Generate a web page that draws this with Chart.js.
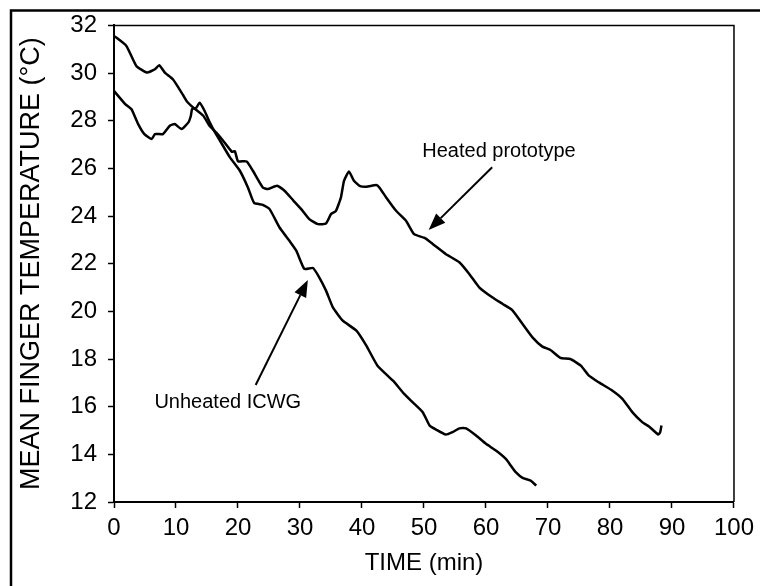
<!DOCTYPE html>
<html lang="en">
<head>
<meta charset="UTF-8">
<title>Mean finger temperature</title>
<script src="https://cdn.jsdelivr.net/npm/chart.js@4"></script>
<style>
  html, body { margin: 0; padding: 0; background: #fff; }
  #wrap { width: 760px; height: 586px; position: relative; }
</style>
</head>
<body>
<div id="wrap"><canvas id="tempChart" width="760" height="586"></canvas></div>
<script>
// values (time in min, temperature in °C)
const heatedTime = [0, 2.0, 3.6, 5.3, 6.6, 7.3, 8.2, 9.5, 10.9, 11.7, 12.8, 14.4, 15.4, 16.5, 17.6, 19.0, 19.5, 20.0, 21.4, 22.4, 24.0, 24.8, 26.3, 27.5, 28.9, 30.2, 31.5, 32.9, 34.2, 35.0, 35.8, 36.6, 37.1, 37.9, 38.7, 39.6, 40.7, 42.3, 42.8, 43.9, 45.5, 47.1, 48.4, 50.1, 51.4, 53.5, 55.7, 57.3, 58.9, 61.0, 62.7, 64.2, 65.9, 67.5, 69.1, 70.4, 72.0, 73.6, 75.3, 76.6, 78.2, 80.4, 82.0, 83.6, 85.2, 86.3, 87.8, 88.1, 88.3];
const heatedTemp = [31.56, 31.14, 30.30, 30.02, 30.16, 30.33, 30.02, 29.74, 29.18, 28.83, 28.55, 28.21, 27.79, 27.50, 27.16, 26.70, 26.72, 26.30, 26.29, 25.90, 25.20, 25.13, 25.27, 25.06, 24.66, 24.29, 23.87, 23.66, 23.69, 24.08, 24.22, 24.78, 25.48, 25.87, 25.48, 25.27, 25.23, 25.30, 25.20, 24.78, 24.22, 23.80, 23.24, 23.08, 22.83, 22.41, 22.06, 21.57, 21.01, 20.59, 20.31, 20.06, 19.47, 18.91, 18.52, 18.38, 18.05, 18.00, 17.72, 17.30, 17.02, 16.67, 16.33, 15.77, 15.35, 15.17, 14.83, 14.93, 15.21];

const unheatedTime = [0, 1.8, 2.8, 3.9, 4.9, 6.1, 6.6, 7.9, 9.0, 9.8, 10.9, 12.0, 12.4, 12.6, 13.3, 13.8, 14.6, 15.4, 16.2, 17.1, 18.7, 20.3, 21.6, 22.6, 24.0, 25.1, 26.7, 28.3, 29.4, 30.7, 32.1, 33.1, 34.2, 35.3, 36.9, 39.1, 40.7, 42.5, 45.0, 46.8, 48.2, 49.8, 50.9, 52.0, 53.5, 54.6, 55.7, 56.8, 58.4, 60.0, 61.6, 63.2, 64.0, 64.8, 65.9, 67.2, 68.1];
const unheatedTemp = [29.25, 28.70, 28.49, 27.86, 27.44, 27.23, 27.44, 27.44, 27.79, 27.86, 27.65, 27.93, 28.21, 28.49, 28.55, 28.76, 28.42, 27.95, 27.55, 27.16, 26.46, 25.90, 25.20, 24.55, 24.47, 24.29, 23.52, 22.96, 22.55, 21.78, 21.82, 21.43, 20.87, 20.17, 19.61, 19.19, 18.56, 17.72, 17.09, 16.54, 16.18, 15.77, 15.21, 15.03, 14.83, 14.93, 15.09, 15.09, 14.79, 14.44, 14.16, 13.81, 13.53, 13.25, 13.01, 12.90, 12.69];

const xTicks = [0, 10, 20, 30, 40, 50, 60, 70, 80, 90, 100];
const yTicks = [12, 14, 16, 18, 20, 22, 24, 26, 28, 30, 32];

// callouts, in data units
const callouts = [
  { text: 'Heated prototype', tx: 62.1, ty: 26.72, from: [61.0, 26.05], to: [50.75, 23.41] },
  { text: 'Unheated ICWG', tx: 18.35, ty: 16.17, from: [22.85, 16.91], to: [31.27, 21.32] }
];

const FONT = '"Liberation Sans", Arial, Helvetica, sans-serif';

function toPoints(xs, ys) {
  return xs.map((x, i) => ({ x: x, y: ys[i] }));
}

const decorPlugin = {
  id: 'decor',
  afterDraw(chart) {
    const { ctx, chartArea: a, scales } = chart;
    ctx.save();
    // outer frame (top + left)
    ctx.strokeStyle = '#000';
    ctx.lineWidth = 2.5;
    ctx.beginPath();
    ctx.moveTo(760, 10.5);
    ctx.lineTo(11, 10.5);
    ctx.lineTo(11, 586);
    ctx.stroke();

    // top + right border of plot box
    ctx.lineWidth = 1.5;
    ctx.beginPath();
    ctx.moveTo(a.left, a.top);
    ctx.lineTo(a.right, a.top);
    ctx.lineTo(a.right, a.bottom);
    ctx.stroke();

    // callouts
    ctx.fillStyle = '#000';
    ctx.font = '20px ' + FONT;
    ctx.textAlign = 'center';
    ctx.textBaseline = 'middle';
    callouts.forEach(c => {
      ctx.fillText(c.text, scales.x.getPixelForValue(c.tx), scales.y.getPixelForValue(c.ty));
      const x1 = scales.x.getPixelForValue(c.from[0]);
      const y1 = scales.y.getPixelForValue(c.from[1]);
      const x2 = scales.x.getPixelForValue(c.to[0]);
      const y2 = scales.y.getPixelForValue(c.to[1]);
      const ang = Math.atan2(y2 - y1, x2 - x1);
      const headLen = 17, headW = 6.5;
      const bx = x2 - headLen * Math.cos(ang);
      const by = y2 - headLen * Math.sin(ang);
      ctx.lineWidth = 2;
      ctx.beginPath();
      ctx.moveTo(x1, y1);
      ctx.lineTo(bx, by);
      ctx.stroke();
      ctx.beginPath();
      ctx.moveTo(x2, y2);
      ctx.lineTo(bx + headW * Math.sin(ang), by - headW * Math.cos(ang));
      ctx.lineTo(bx - headW * Math.sin(ang), by + headW * Math.cos(ang));
      ctx.closePath();
      ctx.fill();
    });
    ctx.restore();
  }
};

const ctx = document.getElementById('tempChart').getContext('2d');
new Chart(ctx, {
  type: 'line',
  data: {
    datasets: [
      {
        label: 'Heated prototype',
        data: toPoints(heatedTime, heatedTemp),
        borderColor: '#000',
        borderWidth: 2.5,
        pointRadius: 0,
        tension: 0.15,
        fill: false
      },
      {
        label: 'Unheated ICWG',
        data: toPoints(unheatedTime, unheatedTemp),
        borderColor: '#000',
        borderWidth: 2.5,
        pointRadius: 0,
        tension: 0.15,
        fill: false
      }
    ]
  },
  options: {
    responsive: false,
    animation: false,
    layout: { padding: { top: 24, right: 24, left: 0, bottom: 0 } },
    plugins: {
      legend: { display: false },
      tooltip: { enabled: false }
    },
    scales: {
      x: {
        type: 'linear',
        min: 0,
        max: 100,
        afterBuildTicks: s => { s.ticks = xTicks.map(v => ({ value: v })); },
        afterFit: s => { s.height = 84; },
        border: { display: true, color: '#000', width: 2 },
        grid: { display: true, drawOnChartArea: false, drawTicks: true, tickLength: 6, tickColor: '#000', tickWidth: 1.5 },
        ticks: { color: '#000', font: { family: FONT, size: 24 }, padding: 6, maxRotation: 0 },
        title: { display: true, text: 'TIME (min)', color: '#000', font: { family: FONT, size: 24 }, padding: { top: 0, bottom: 8 } }
      },
      y: {
        type: 'linear',
        min: 12,
        max: 32,
        afterBuildTicks: s => { s.ticks = yTicks.map(v => ({ value: v })); },
        afterFit: s => { s.width = 114; },
        border: { display: true, color: '#000', width: 2 },
        grid: { display: true, drawOnChartArea: false, drawTicks: true, tickLength: 6, tickColor: '#000', tickWidth: 1.5 },
        ticks: { color: '#000', font: { family: FONT, size: 24 }, padding: 11 },
        title: { display: true, text: 'MEAN FINGER TEMPERATURE (°C)', color: '#000', font: { family: FONT, size: 27 }, padding: { top: 15, bottom: 0 } }
      }
    }
  },
  plugins: [decorPlugin]
});
</script>
</body>
</html>
